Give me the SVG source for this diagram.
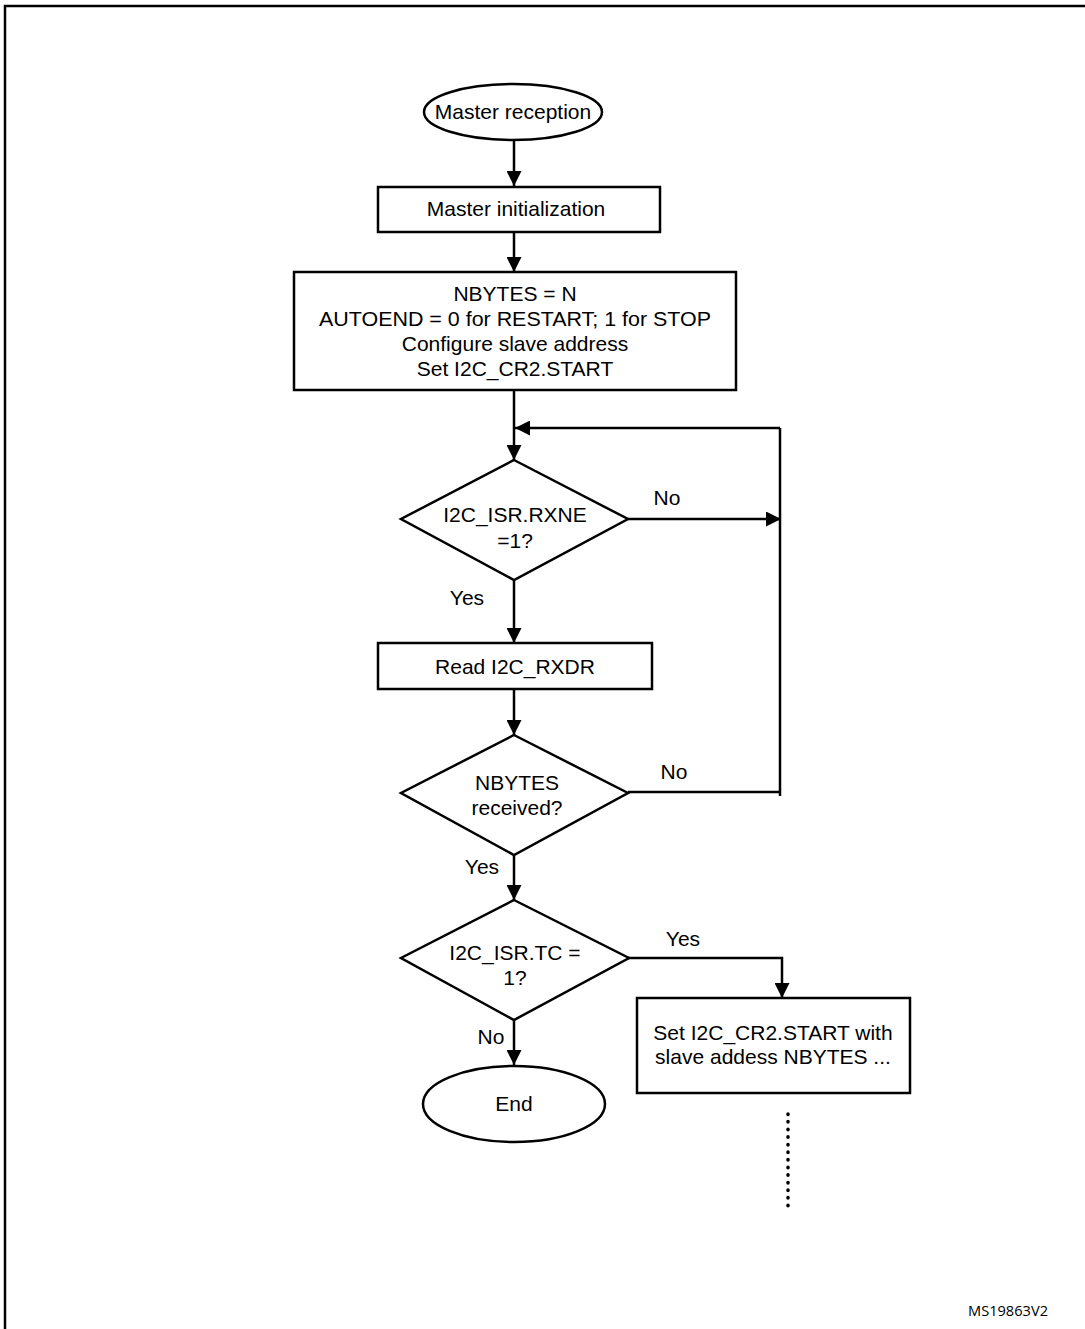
<svg xmlns="http://www.w3.org/2000/svg" width="1085" height="1329" viewBox="0 0 1085 1329">
<defs>
<marker id="ah" viewBox="0 0 15 15" refX="15" refY="7.5" markerWidth="15" markerHeight="15" markerUnits="userSpaceOnUse" orient="auto">
<path d="M0,0 L15,7.5 L0,15 Z" fill="#000"/>
</marker>
<style>
.s{fill:#fff;stroke:#000;stroke-width:2.5}
.t{font-family:"Liberation Sans",Arial,sans-serif;font-size:21px;fill:#000;text-anchor:middle}
.c{fill:none;stroke:#000;stroke-width:2.5}
</style>
</defs>
<rect width="1085" height="1329" fill="#fff"/>
<path d="M5,1329 V6 H1085" fill="none" stroke="#000" stroke-width="2.5"/>
<g id="connectors">
<path class="c" d="M514,140 V186" marker-end="url(#ah)"/>
<path class="c" d="M514,232 V272" marker-end="url(#ah)"/>
<path class="c" d="M514,390 V460" marker-end="url(#ah)"/>
<path class="c" d="M780,428 H515" marker-end="url(#ah)"/>
<path class="c" d="M628,519 H781" marker-end="url(#ah)"/>
<path class="c" d="M780,428 V796"/>
<path class="c" d="M628,792 H780"/>
<path class="c" d="M514,580 V643" marker-end="url(#ah)"/>
<path class="c" d="M514,689 V735" marker-end="url(#ah)"/>
<path class="c" d="M514,855 V900" marker-end="url(#ah)"/>
<path class="c" d="M628,958 H782 V998" marker-end="url(#ah)"/>
<path class="c" d="M514,1020 V1065" marker-end="url(#ah)"/>
<path d="M788,1114 V1206" fill="none" stroke="#000" stroke-width="3.5" stroke-linecap="round" stroke-dasharray="0.5 7.1"/>
<text class="t" x="667" y="505">No</text>
<text class="t" x="467" y="605">Yes</text>
<text class="t" x="674" y="779">No</text>
<text class="t" x="482" y="874">Yes</text>
<text class="t" x="683" y="946">Yes</text>
<text class="t" x="491" y="1044">No</text>
</g>
<g id="start">
<ellipse class="s" cx="513" cy="112" rx="89" ry="28"/>
<text class="t" x="513" y="119">Master reception</text>
</g>
<g id="init">
<rect class="s" x="378" y="187" width="282" height="45"/>
<text class="t" x="516" y="216">Master initialization</text>
</g>
<g id="config">
<rect class="s" x="294" y="272" width="442" height="118"/>
<text class="t" x="515" y="301">NBYTES = N</text>
<text class="t" x="515" y="326" textLength="392" lengthAdjust="spacingAndGlyphs">AUTOEND = 0 for RESTART; 1 for STOP</text>
<text class="t" x="515" y="351">Configure slave address</text>
<text class="t" x="515" y="376">Set I2C_CR2.START</text>
</g>
<g id="rxne">
<polygon class="s" points="514,460 628,519 514,580 401,519"/>
<text class="t" x="515" y="522">I2C_ISR.RXNE</text>
<text class="t" x="515" y="548">=1?</text>
</g>
<g id="read">
<rect class="s" x="378" y="643" width="274" height="46"/>
<text class="t" x="515" y="674">Read I2C_RXDR</text>
</g>
<g id="nbytes">
<polygon class="s" points="514,735 628,793 514,855 401,793"/>
<text class="t" x="517" y="790">NBYTES</text>
<text class="t" x="517" y="815">received?</text>
</g>
<g id="tc">
<polygon class="s" points="514,900 629,958 514,1020 401,958"/>
<text class="t" x="515" y="960">I2C_ISR.TC =</text>
<text class="t" x="515" y="985">1?</text>
</g>
<g id="restart">
<rect class="s" x="637" y="998" width="273" height="95"/>
<text class="t" x="773" y="1040">Set I2C_CR2.START with</text>
<text class="t" x="773" y="1064">slave addess NBYTES ...</text>
</g>
<g id="end">
<ellipse class="s" cx="514" cy="1104" rx="91" ry="38"/>
<text class="t" x="514" y="1111">End</text>
</g>
<text x="1048" y="1316" font-family="Open Sans, sans-serif" font-size="14" text-anchor="end" fill="#000" textLength="80" lengthAdjust="spacingAndGlyphs">MS19863V2</text>
</svg>
